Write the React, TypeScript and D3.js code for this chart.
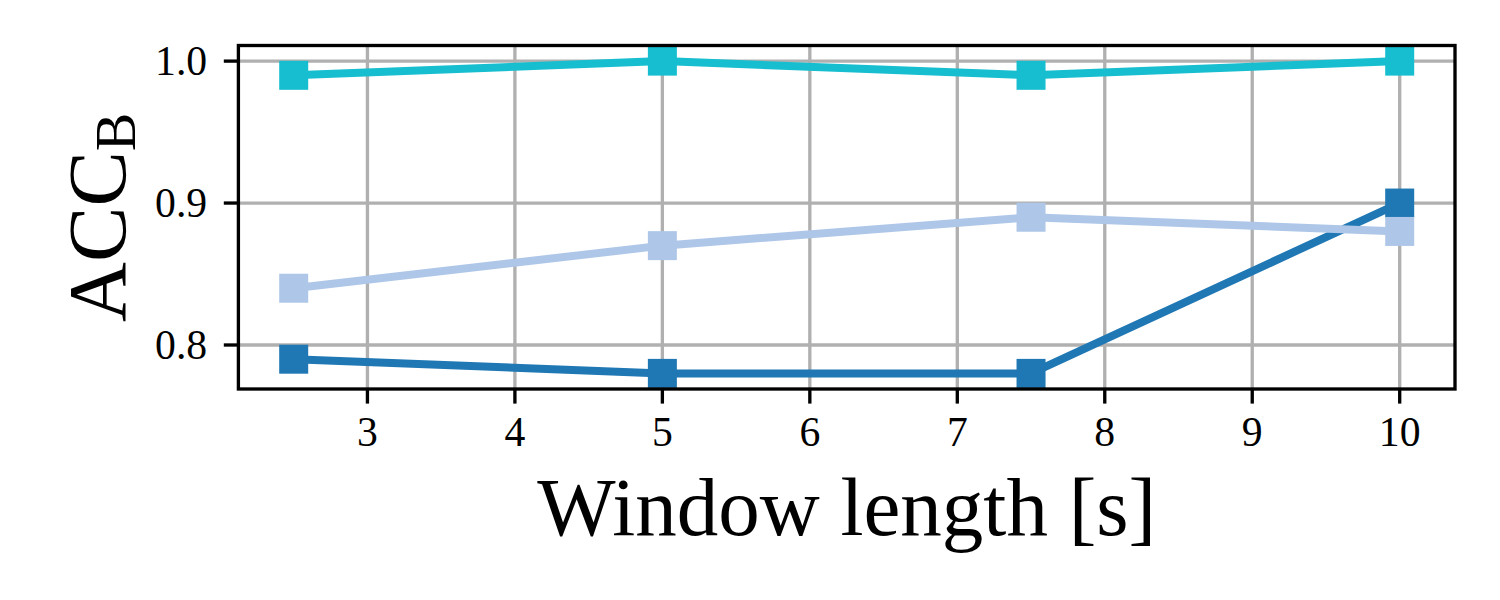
import React from "react";
import * as d3 from "d3";

const windowLengths = [2.5, 5, 7.5, 10];
const seriesDark = [0.79, 0.78, 0.78, 0.9];
const seriesLight = [0.84, 0.87, 0.89, 0.88];
const seriesCyan = [0.99, 1.0, 0.99, 1.0];
const seriesColors = ["#1f77b4", "#aec7e8", "#17becf"];
const xTicks = [3, 4, 5, 6, 7, 8, 9, 10];
const yTicks = [0.8, 0.9, 1.0];

const W = 1500;
const H = 600;
const left = 238.4;
const right = 1455;
const top = 45.5;
const bottom = 389;

const FONT = "'Liberation Serif', 'Times New Roman', serif";

export default function App() {
  const x = d3.scaleLinear().domain([2.125, 10.375]).range([left, right]);
  const y = d3.scaleLinear().domain([0.769, 1.011]).range([bottom, top]);
  const line = d3
    .line<number>()
    .x((_, i) => x(windowLengths[i]))
    .y((d) => y(d));
  const series = [seriesDark, seriesLight, seriesCyan];
  const ms = 29;
  const lw = 3.33;
  const tickLen = 14.6;

  return (
    <svg
      width={W}
      height={H}
      style={{ position: "absolute", left: 0, top: 0, background: "#fff" }}
    >
      <rect x={0} y={0} width={W} height={H} fill="#fff" />
      {/* grid */}
      {xTicks.map((t) => (
        <line
          key={"gx" + t}
          x1={x(t)}
          x2={x(t)}
          y1={top}
          y2={bottom}
          stroke="#b0b0b0"
          strokeWidth={lw}
        />
      ))}
      {yTicks.map((t) => (
        <line
          key={"gy" + t}
          x1={left}
          x2={right}
          y1={y(t)}
          y2={y(t)}
          stroke="#b0b0b0"
          strokeWidth={lw}
        />
      ))}
      {/* series */}
      {series.map((s, k) => (
        <g key={"s" + k}>
          <path
            d={line(s) || ""}
            fill="none"
            stroke={seriesColors[k]}
            strokeWidth={8}
            strokeLinejoin="round"
            strokeLinecap="butt"
          />
          {s.map((v, i) => (
            <rect
              key={i}
              x={x(windowLengths[i]) - ms / 2}
              y={y(v) - ms / 2}
              width={ms}
              height={ms}
              fill={seriesColors[k]}
            />
          ))}
        </g>
      ))}
      {/* spines */}
      <rect
        x={left}
        y={top}
        width={right - left}
        height={bottom - top}
        fill="none"
        stroke="#000"
        strokeWidth={lw}
        strokeLinejoin="miter"
      />
      {/* x ticks */}
      {xTicks.map((t) => (
        <g key={"xt" + t}>
          <line
            x1={x(t)}
            x2={x(t)}
            y1={bottom}
            y2={bottom + tickLen}
            stroke="#000"
            strokeWidth={lw}
          />
          <text
            x={x(t)}
            y={bottom + tickLen + 14.6 + 28}
            textAnchor="middle"
            fontFamily={FONT}
            fontSize={41.7}
            fill="#000"
          >
            {t}
          </text>
        </g>
      ))}
      {/* y ticks */}
      {yTicks.map((t) => (
        <g key={"yt" + t}>
          <line
            x1={left - tickLen}
            x2={left}
            y1={y(t)}
            y2={y(t)}
            stroke="#000"
            strokeWidth={lw}
          />
          <text
            x={left - tickLen - 14.6 - 2}
            y={y(t) + 14}
            textAnchor="end"
            fontFamily={FONT}
            fontSize={41.7}
            fill="#000"
          >
            {t.toFixed(1)}
          </text>
        </g>
      ))}
      {/* x label */}
      <text
        x={(left + right) / 2}
        y={535}
        textAnchor="middle"
        fontFamily={FONT}
        fontSize={83}
        fill="#000"
      >
        Window length [s]
      </text>
      {/* y label */}
      <text
        transform={`translate(125, ${(top + bottom) / 2}) rotate(-90)`}
        textAnchor="middle"
        fontFamily={FONT}
        fontSize={83}
        fill="#000"
      >
        ACC
        <tspan fontSize={58} dy={10}>
          B
        </tspan>
      </text>
    </svg>
  );
}
